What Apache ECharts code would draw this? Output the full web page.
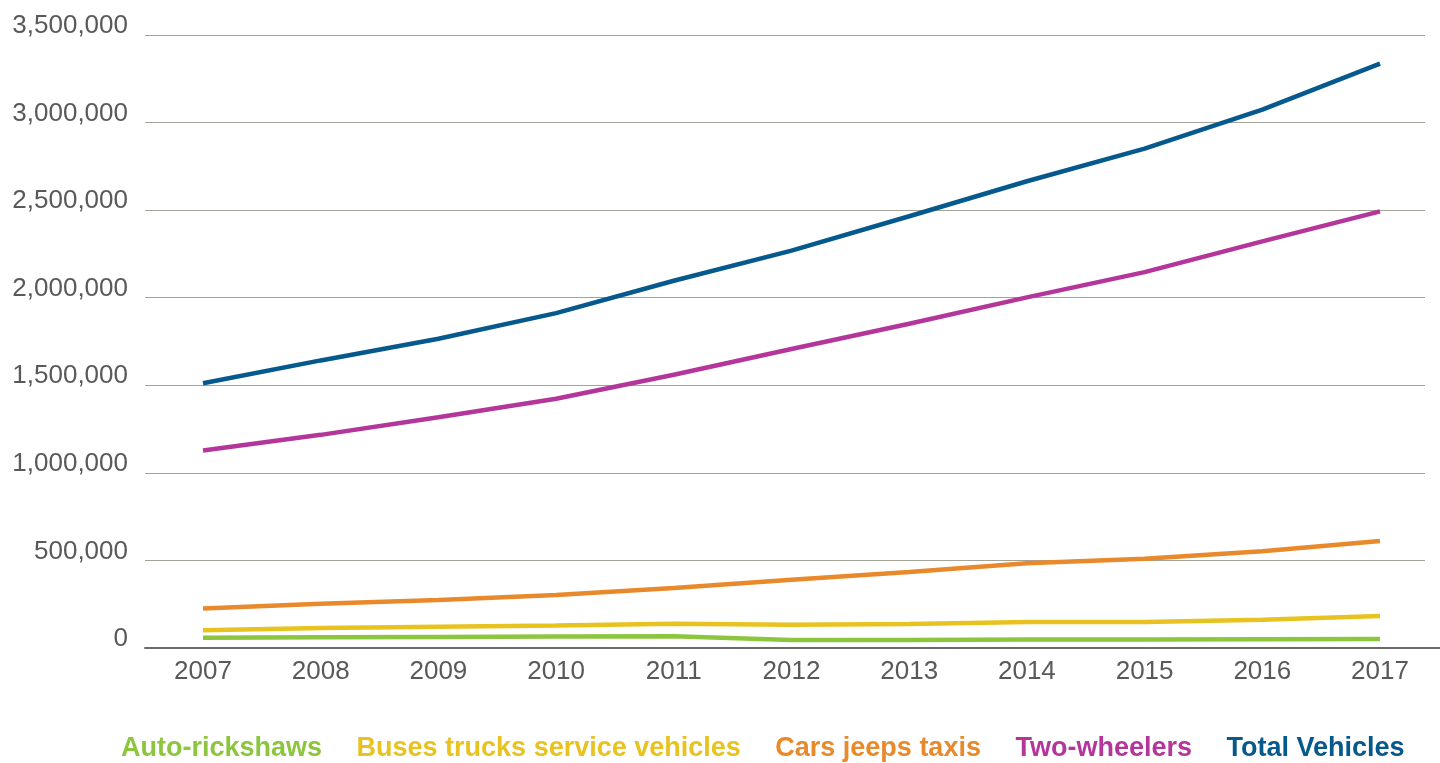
<!DOCTYPE html>
<html>
<head>
<meta charset="utf-8">
<script src="https://cdn.jsdelivr.net/npm/echarts@6/dist/echarts.min.js"></script>
<style>
html,body{margin:0;padding:0;background:#fff;}
#chart{width:1440px;height:763px;}
</style>
</head>
<body>
<div id="chart"></div>
<script>
const years = ['2007','2008','2009','2010','2011','2012','2013','2014','2015','2016','2017'];
const autoRickshaws = [59000, 61000, 63000, 65000, 67000, 46000, 46000, 48000, 48000, 50000, 51000];
const busesTrucks   = [101000, 114000, 122000, 128000, 139000, 133000, 137000, 149000, 149000, 162000, 183000];
const carsJeeps     = [225000, 253000, 274000, 303000, 343000, 389000, 434000, 484000, 509000, 552000, 611000];
const twoWheelers   = [1128000, 1217000, 1318000, 1423000, 1560000, 1707000, 1851000, 2002000, 2146000, 2322000, 2493000];
const totalVehicles = [1512000, 1642000, 1766000, 1912000, 2097000, 2269000, 2465000, 2665000, 2851000, 3074000, 3337000];
const yTicks = [0, 500000, 1000000, 1500000, 2000000, 2500000, 3000000, 3500000];

const seriesNames = ['Auto-rickshaws','Buses trucks service vehicles','Cars jeeps taxis','Two-wheelers','Total Vehicles'];
const seriesData = [autoRickshaws, busesTrucks, carsJeeps, twoWheelers, totalVehicles];
const colors = ['#8cc63f','#e8c320','#e8892b','#b5369a','#05598c'];

const yMin = yTicks[0], yMax = yTicks[yTicks.length-1], yStep = yTicks[1]-yTicks[0];
const fmt = v => v.toString().replace(/\B(?=(\d{3})+(?!\d))/g, ',');

const chart = echarts.init(document.getElementById('chart'), null, {renderer:'canvas'});
const option = {
  animation: false,
  backgroundColor: '#ffffff',
  textStyle: { fontFamily: 'Liberation Sans, Arial, sans-serif' },
  grid: [
    { left: 145, right: 15, top: 35, bottom: 115 },
    { left: 203, right: 60, top: 35, bottom: 115 },
    { left: 145, right: 0, top: 35, bottom: 115 }
  ],
  xAxis: [
    { gridIndex: 0, type: 'category', data: years, show: false },
    { gridIndex: 1, type: 'category', data: years, boundaryGap: false,
      axisLine: { show: false }, axisTick: { show: false },
      axisLabel: { color: '#595959', fontSize: 26, margin: 11, fontFamily: 'Liberation Sans, Arial, sans-serif' },
      splitLine: { show: false } },
    { gridIndex: 2, type: 'category', data: years,
      axisLine: { show: true, lineStyle: { color: '#6b6b6b', width: 2 } },
      axisTick: { show: false }, axisLabel: { show: false }, splitLine: { show: false } }
  ],
  yAxis: [
    { gridIndex: 0, type: 'value', min: yMin, max: yMax, interval: yStep,
      axisLine: { show: false }, axisTick: { show: false },
      axisLabel: { color: '#595959', fontSize: 26, margin: 17, verticalAlign: 'bottom',
        lineHeight: 18,
        fontFamily: 'Liberation Sans, Arial, sans-serif', formatter: v => fmt(v) },
      splitLine: { show: true, lineStyle: { color: '#a3a398', width: 1 } } },
    { gridIndex: 1, type: 'value', min: yMin, max: yMax, interval: yStep, show: false,
      splitLine: { show: false } },
    { gridIndex: 2, type: 'value', min: yMin, max: yMax, interval: yStep, show: false,
      splitLine: { show: false } }
  ],
  legend: {
    left: 111, top: 729,
    icon: 'none', itemWidth: 0, itemHeight: 30, itemGap: 29.5,
    selectedMode: false,
    textStyle: { fontSize: 27, fontWeight: 'bold', fontFamily: 'Liberation Sans, Arial, sans-serif' },
    data: seriesNames.map((n, i) => ({ name: n, textStyle: { color: colors[i] } }))
  },
  series: seriesNames.map((n, i) => ({
    name: n, type: 'line', xAxisIndex: 1, yAxisIndex: 1,
    data: seriesData[i], symbol: 'none', smooth: false,
    lineStyle: { color: colors[i], width: 4.5, cap: 'butt' },
    itemStyle: { color: colors[i] }
  }))
};
chart.setOption(option);
</script>
</body>
</html>
